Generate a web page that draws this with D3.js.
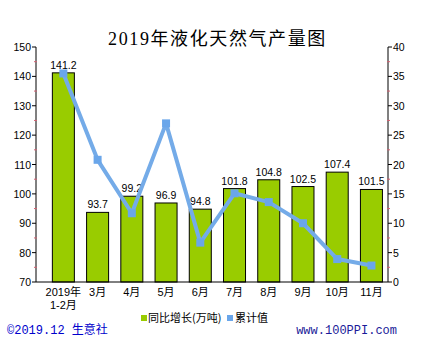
<!DOCTYPE html>
<html><head><meta charset="utf-8">
<script src="https://cdn.jsdelivr.net/npm/d3@7"></script>
<style>
body{margin:0;background:#fff;}
svg{display:block;}
</style></head>
<body>
<svg id="c" width="426" height="342"></svg>
<script>
const categories = ["2019年\n1-2月","3月","4月","5月","6月","7月","8月","9月","10月","11月"];
const production = [141.2, 93.7, 99.2, 96.9, 94.8, 101.8, 104.8, 102.5, 107.4, 101.5];
const cumulative = [35.5, 20.8, 11.7, 27.0, 6.7, 15.1, 13.6, 10.0, 3.9, 2.8];
const leftTicks = [70, 80, 90, 100, 110, 120, 130, 140, 150];
const rightTicks = [0, 5, 10, 15, 20, 25, 30, 35, 40];
const seriesNames = ["同比增长(万吨)", "累计值"];

const svg = d3.select("#c");
const axL = 36, axR = 388, plotTop = 47, plotBot = 282;
const numFont = "'Liberation Sans', 'Noto Sans CJK SC', sans-serif";
const cjkFont = "'Noto Sans CJK SC', 'Liberation Sans', sans-serif";

const x = d3.scaleBand().domain(categories).range([46.2, 388.6]).paddingInner(0.357).paddingOuter(0.18);
const yL = d3.scaleLinear().domain([70, 150]).range([plotBot, plotTop]);
const yR = d3.scaleLinear().domain([0, 40]).range([plotBot, plotTop]);

// title
svg.append("text").attr("x", 217.5).attr("y", 45).attr("text-anchor", "middle")
  .style("font-family", "'Liberation Serif', 'Noto Sans CJK SC', serif")
  .style("font-size", "18px").style("letter-spacing", "1.6px")
  .text("2019年液化天然气产量图");

// bars
svg.append("g").selectAll("rect").data(production).join("rect")
  .attr("x", (d, i) => x(categories[i]))
  .attr("y", d => yL(d))
  .attr("width", x.bandwidth())
  .attr("height", d => plotBot - yL(d))
  .attr("fill", "#99CC00").attr("stroke", "#000").attr("stroke-width", 1);

// data labels
svg.append("g").selectAll("text").data(production).join("text")
  .attr("x", (d, i) => x(categories[i]) + x.bandwidth() / 2)
  .attr("y", d => yL(d) - 4)
  .attr("text-anchor", "middle")
  .style("font-family", numFont).style("font-size", "10.5px")
  .text(d => d.toFixed(1));

// left axis
const gL = svg.append("g");
gL.append("line").attr("x1", axL).attr("x2", axL).attr("y1", plotTop).attr("y2", plotBot).attr("stroke", "#000");
leftTicks.forEach((t, i) => {
  gL.append("line").attr("x1", axL - 4).attr("x2", axL).attr("y1", yL(t)).attr("y2", yL(t)).attr("stroke", "#000");
  gL.append("text").attr("x", axL - 5).attr("y", yL(t) + 4).attr("text-anchor", "end")
    .style("font-family", numFont).style("font-size", "10.5px").text(t);
  if (i < leftTicks.length - 1) {
    const m = (t + leftTicks[i + 1]) / 2;
    gL.append("line").attr("x1", axL - 2).attr("x2", axL + 1).attr("y1", yL(m)).attr("y2", yL(m)).attr("stroke", "#d06070");
  }
});

// right axis
const gR = svg.append("g");
gR.append("line").attr("x1", axR).attr("x2", axR).attr("y1", plotTop).attr("y2", plotBot).attr("stroke", "#000");
rightTicks.forEach((t, i) => {
  gR.append("line").attr("x1", axR).attr("x2", axR + 4).attr("y1", yR(t)).attr("y2", yR(t)).attr("stroke", "#000");
  gR.append("text").attr("x", axR + 5).attr("y", yR(t) + 4).attr("text-anchor", "start")
    .style("font-family", numFont).style("font-size", "10.5px").text(t);
  if (i < rightTicks.length - 1) {
    const m = (t + rightTicks[i + 1]) / 2;
    gR.append("line").attr("x1", axR - 1).attr("x2", axR + 2).attr("y1", yR(m)).attr("y2", yR(m)).attr("stroke", "#d06070");
  }
});

// x axis
svg.append("line").attr("x1", axL).attr("x2", axR).attr("y1", plotBot).attr("y2", plotBot).attr("stroke", "#000");
const gx = svg.append("g");
categories.forEach(c => {
  const lines = c.split("\n");
  lines.forEach((ln, j) => {
    gx.append("text").attr("text-anchor", "middle")
      .style("font-family", numFont).style("font-size", "11px")
      .attr("x", x(c) + x.bandwidth() / 2).attr("y", 296 + j * 13).text(ln);
  });
});

// line series
const pts = cumulative.map((v, i) => [x(categories[i]) + x.bandwidth() / 2, yR(v)]);
svg.append("path").attr("d", d3.line()(pts)).attr("fill", "none")
  .attr("stroke", "#74ABE8").attr("stroke-width", 4).attr("stroke-linejoin", "round");
svg.append("g").selectAll("rect").data(pts).join("rect")
  .attr("x", d => d[0] - 4).attr("y", d => d[1] - 4).attr("width", 8).attr("height", 8)
  .attr("fill", "#6AA6EA");

// legend
const lg = svg.append("g");
lg.append("rect").attr("x", 141).attr("y", 315).attr("width", 6).attr("height", 6).attr("fill", "#99CC00");
lg.append("text").attr("x", 148).attr("y", 322).style("font-family", cjkFont).style("font-size", "11px").text(seriesNames[0]);
lg.append("rect").attr("x", 227).attr("y", 315).attr("width", 6).attr("height", 6).attr("fill", "#6AA6EA");
lg.append("text").attr("x", 235).attr("y", 322).style("font-family", cjkFont).style("font-size", "11px").text(seriesNames[1]);

// footer
svg.append("text").attr("x", 7).attr("y", 334)
  .style("font-family", "'Liberation Mono', 'Noto Sans CJK SC', monospace").style("font-size", "12px")
  .attr("fill", "#0000CC").text("©2019.12 生意社");
svg.append("text").attr("x", 397).attr("y", 334).attr("text-anchor", "end")
  .style("font-family", "'Liberation Mono', monospace").style("font-size", "12px")
  .attr("fill", "#1a1a99").text("www.100PPI.com");
</script>
</body></html>
